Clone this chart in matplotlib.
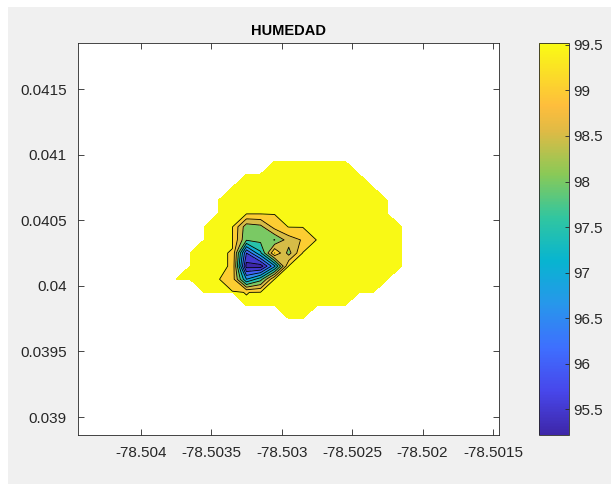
import numpy as np
import matplotlib
matplotlib.use('Agg')
import matplotlib.pyplot as plt
from matplotlib.colors import LinearSegmentedColormap, Normalize
from matplotlib.cm import ScalarMappable
from matplotlib.patches import Rectangle

plt.rcParams['font.family'] = ['Liberation Sans', 'DejaVu Sans']

nan = np.nan

# grid of the interpolated humidity (rows from north to south)
lon = [-78.50375, -78.50365, -78.50355, -78.50345, -78.50335, -78.50325, -78.50315,
       -78.50305, -78.50295, -78.50285, -78.50275, -78.50265, -78.50255, -78.50245,
       -78.50235, -78.50225, -78.50215]
lat = [0.04095, 0.04085, 0.04075, 0.04065, 0.04055, 0.04045, 0.04035,
       0.04025, 0.04015, 0.04005, 0.03995, 0.03985, 0.03975]

humedad = [
    [nan, nan, nan, nan, nan, nan, nan, 99.52, 99.52, 99.52, 99.52, 99.52, 99.52, nan, nan, nan, nan],
    [nan, nan, nan, nan, nan, 99.52, 99.52, 99.52, 99.52, 99.52, 99.52, 99.52, 99.52, 99.52, nan, nan, nan],
    [nan, nan, nan, nan, 99.52, 99.52, 99.52, 99.52, 99.52, 99.52, 99.52, 99.52, 99.52, 99.52, 99.52, nan, nan],
    [nan, nan, nan, 99.52, 99.52, 99.52, 99.52, 99.52, 99.52, 99.52, 99.52, 99.52, 99.52, 99.52, 99.52, 99.52, nan],
    [nan, nan, nan, 99.52, 99.52, 99.52, 99.52, 99.52, 99.52, 99.52, 99.52, 99.52, 99.52, 99.52, 99.52, 99.52, nan],
    [nan, nan, 99.52, 99.52, 99.52, 98.20, 98.35, 99.20, 99.52, 99.52, 99.52, 99.52, 99.52, 99.52, 99.52, 99.52, 99.52],
    [nan, nan, 99.52, 99.52, 99.52, 98.05, 98.15, 97.99, 98.75, 99.05, 99.52, 99.52, 99.52, 99.52, 99.52, 99.52, 99.52],
    [nan, 99.52, 99.52, 99.52, 99.49, 96.00, 97.40, 99.52, 98.30, 99.52, 99.52, 99.52, 99.52, 99.52, 99.52, 99.52, 99.52],
    [nan, 99.52, 99.52, 99.52, 99.49, 95.30, 95.22, 96.90, 99.52, 99.52, 99.52, 99.52, 99.52, 99.52, 99.52, 99.52, 99.52],
    [99.52, 99.52, 99.52, 99.52, 99.30, 97.00, 97.80, 99.52, 99.52, 99.52, 99.52, 99.52, 99.52, 99.52, 99.52, 99.52, nan],
    [nan, nan, 99.52, 99.52, 99.52, 99.495, 99.52, 99.52, 99.52, 99.52, 99.52, 99.52, 99.52, 99.52, 99.52, nan, nan],
    [nan, nan, nan, nan, nan, 99.52, 99.52, 99.52, 99.52, 99.52, 99.52, 99.52, 99.52, nan, nan, nan, nan],
    [nan, nan, nan, nan, nan, nan, nan, nan, 99.52, 99.52, nan, nan, nan, nan, nan, nan, nan],
]

niveles = [95.5, 96, 96.5, 97, 97.5, 98, 98.5, 99, 99.5]
zmin, zmax = 95.22, 99.52

xticks = [-78.504, -78.5035, -78.503, -78.5025, -78.502, -78.5015]
xlabels = ['-78.504', '-78.5035', '-78.503', '-78.5025', '-78.502', '-78.5015']
yticks = [0.039, 0.0395, 0.04, 0.0405, 0.041, 0.0415]
ylabels = ['0.039', '0.0395', '0.04', '0.0405', '0.041', '0.0415']

# parula-like colormap
parula_pos = [0, 7, 14, 21, 28, 35, 42, 49, 53, 56, 63]
parula_rgb = [(0.2422, 0.1504, 0.6603), (0.2803, 0.2782, 0.9221), (0.2440, 0.4358, 0.9988),
              (0.1540, 0.5902, 0.9218), (0.0297, 0.7082, 0.8163), (0.1938, 0.7758, 0.6251),
              (0.5400, 0.7900, 0.3400), (0.8800, 0.7300, 0.2700), (0.9956, 0.7434, 0.2371),
              (0.9892, 0.8136, 0.1885), (0.9769, 0.9839, 0.0805)]
parula = LinearSegmentedColormap.from_list('parula', list(zip([p / 63 for p in parula_pos], parula_rgb)))
norm = Normalize(zmin, zmax)

Z = np.ma.masked_invalid(np.array(humedad))
X, Y = np.meshgrid(lon, lat)

fig = plt.figure(figsize=(6.11, 4.84), dpi=100, facecolor='white')
fig.patches.append(Rectangle((8 / 611, 0), 1, 477 / 484, transform=fig.transFigure,
                             facecolor='#f0f0f0', edgecolor='none', zorder=-10))

ax = fig.add_axes([78 / 611, 49 / 484, 421 / 611, 392 / 484])
ax.set_facecolor('white')

# MATLAB colours each band with the colour of its lower level
bordes = [zmin - 0.01] + niveles + [zmax + 0.01]
colores = [parula(norm(max(b, zmin))) for b in bordes[:-1]]
ax.contourf(X, Y, Z, levels=bordes, colors=colores)
ax.contour(X, Y, Z, levels=niveles, colors='k', linewidths=0.6)

ax.set_xlim(-78.504446, -78.501457)
ax.set_ylim(0.038863, 0.041851)
ax.set_xticks(xticks)
ax.set_xticklabels(xlabels)
ax.set_yticks(yticks)
ax.set_yticklabels(ylabels)
ax.tick_params(direction='in', top=True, right=True, length=4, width=0.6,
               labelsize=11, colors='#262626', pad=8)
for s in ax.spines.values():
    s.set_color('#262626')
    s.set_linewidth(0.6)
ax.set_title('HUMEDAD', fontsize=10.5, fontweight='bold', pad=6)

cax = fig.add_axes([539 / 611, 49 / 484, 30 / 611, 392 / 484])
cb = fig.colorbar(ScalarMappable(norm=norm, cmap=parula), cax=cax, ticks=niveles)
cb.ax.set_yticklabels(['95.5', '96', '96.5', '97', '97.5', '98', '98.5', '99', '99.5'])
cb.ax.tick_params(direction='in', length=3, width=0.6, labelsize=11, colors='#262626', pad=3)
cb.outline.set_edgecolor('#262626')
cb.outline.set_linewidth(0.6)

fig.savefig('out.png', dpi=100, facecolor=fig.get_facecolor())
